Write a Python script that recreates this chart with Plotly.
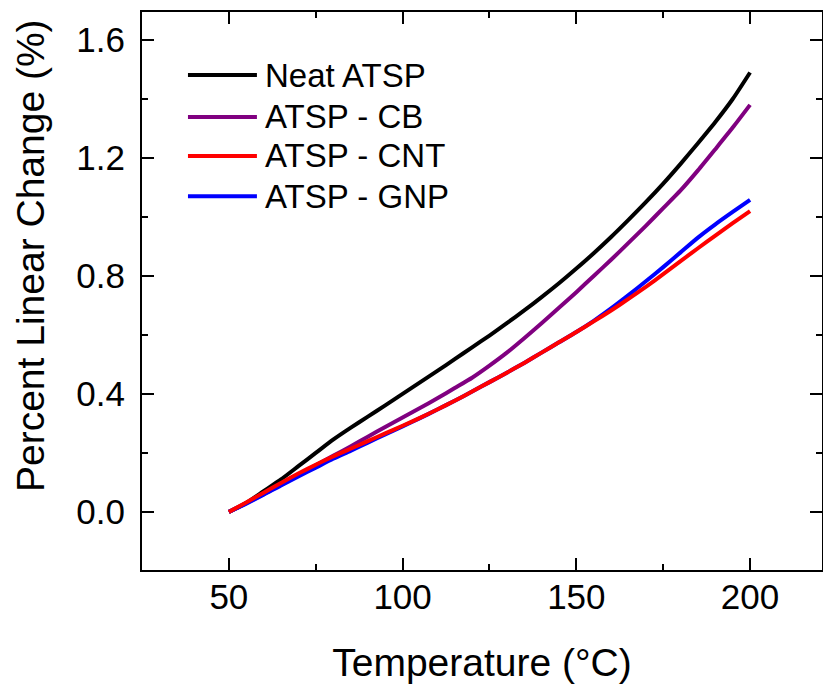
import plotly.graph_objects as go

temp = [50, 55, 60, 65, 70, 75, 80, 85, 90, 95, 100, 105, 110, 115, 120, 125, 130, 135, 140,
        145, 150, 155, 160, 165, 170, 175, 180, 185, 190, 195, 200]

neat = [0.0, 0.03, 0.07, 0.11, 0.155, 0.20, 0.245, 0.285, 0.323, 0.361, 0.40, 0.439, 0.478, 0.518,
        0.558, 0.598, 0.64, 0.683, 0.728, 0.775, 0.825, 0.877, 0.932, 0.99, 1.05, 1.113, 1.18, 1.25,
        1.322, 1.40, 1.49]
cb = [0.0, 0.03, 0.06, 0.092, 0.125, 0.158, 0.19, 0.222, 0.255, 0.288, 0.32, 0.352, 0.385, 0.42,
      0.455, 0.496, 0.54, 0.589, 0.64, 0.692, 0.745, 0.80, 0.855, 0.912, 0.97, 1.03, 1.09, 1.158,
      1.23, 1.303, 1.38]
cnt = [0.0, 0.032, 0.065, 0.098, 0.13, 0.16, 0.188, 0.214, 0.24, 0.266, 0.292, 0.319, 0.347, 0.377,
       0.408, 0.44, 0.472, 0.505, 0.54, 0.575, 0.61, 0.646, 0.683, 0.722, 0.763, 0.806, 0.85, 0.894,
       0.937, 0.979, 1.02]
gnp = [0.0, 0.028, 0.058, 0.09, 0.12, 0.15, 0.18, 0.207, 0.235, 0.263, 0.29, 0.318, 0.347, 0.377,
       0.408, 0.44, 0.472, 0.505, 0.54, 0.575, 0.61, 0.648, 0.69, 0.735, 0.782, 0.83, 0.88, 0.93,
       0.975, 1.017, 1.058]

legend_names = ["Neat ATSP", "ATSP - CB", "ATSP - CNT", "ATSP - GNP"]
legend_colors = ["#000000", "#800080", "#FF0000", "#0000FF"]

# drawing order (red drawn on top of blue)
series = [
    ("Neat ATSP", neat, "#000000"),
    ("ATSP - CB", cb, "#800080"),
    ("ATSP - GNP", gnp, "#0000FF"),
    ("ATSP - CNT", cnt, "#FF0000"),
]

FONT = "Liberation Sans, Arial, sans-serif"

fig = go.Figure()
for name, vals, color in series:
    fig.add_trace(go.Scatter(x=temp, y=vals, mode="lines", name=name, showlegend=False,
                             line=dict(color=color, width=4, shape="spline", smoothing=0.6)))

axis_common = dict(
    showline=True, linecolor="black", linewidth=2, mirror="ticks",
    ticks="inside", ticklen=12, tickwidth=2, tickcolor="black",
    showgrid=False, zeroline=False,
    tickfont=dict(family=FONT, size=35, color="black"),
)

fig.update_xaxes(range=[25, 220.7], tick0=50, dtick=50,
                 minor=dict(ticks="inside", ticklen=6, tickwidth=2, tickcolor="black", dtick=25, tick0=25),
                 title=dict(text="Temperature (°C)", font=dict(family=FONT, size=39, color="black"), standoff=34),
                 ticklabelstandoff=-5,
                 **axis_common)
fig.update_yaxes(range=[-0.197, 1.695], tick0=0, dtick=0.4, tickformat=".1f",
                 minor=dict(ticks="inside", ticklen=6, tickwidth=2, tickcolor="black", dtick=0.2, tick0=0),
                 ticklabelstandoff=8,
                 **axis_common)

# y-axis title (placed as annotation to match the off-centre position)
fig.add_annotation(text="Percent Linear Change (%)", xref="paper", yref="paper",
                   x=-0.163, y=0.563, xanchor="center", yanchor="middle", textangle=-90,
                   showarrow=False, font=dict(family=FONT, size=39, color="black"))

# manual legend
leg_x0, leg_x1, leg_tx = 0.0676, 0.169, 0.178
leg_y = [0.887, 0.812, 0.742, 0.670]
for name, color, yy in zip(legend_names, legend_colors, leg_y):
    fig.add_shape(type="line", xref="paper", yref="paper", x0=leg_x0, x1=leg_x1, y0=yy, y1=yy,
                  line=dict(color=color, width=4))
    fig.add_annotation(text=name, xref="paper", yref="paper", x=leg_tx, y=yy,
                       xanchor="left", yanchor="middle", showarrow=False,
                       font=dict(family=FONT, size=33, color="black"))

fig.update_layout(
    width=823, height=684,
    margin=dict(l=142, r=1, t=12, b=114, autoexpand=False),
    plot_bgcolor="white", paper_bgcolor="white",
    showlegend=False,
)

fig.write_html("out.html")
